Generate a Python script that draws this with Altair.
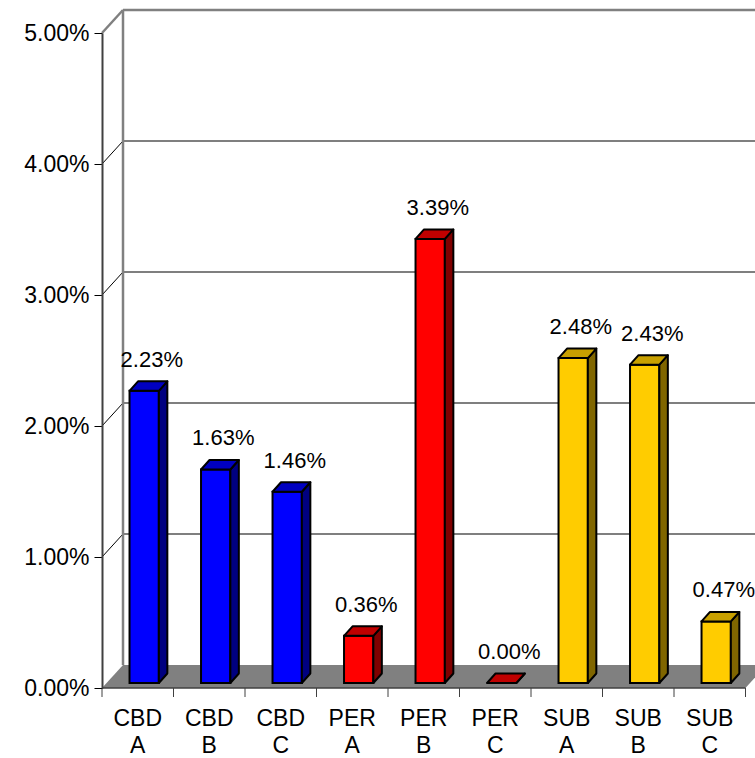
import altair as alt
import pandas as pd

# ---------------- data ----------------
categories = ["CBD A", "CBD B", "CBD C", "PER A", "PER B", "PER C", "SUB A", "SUB B", "SUB C"]
groups = ["CBD", "CBD", "CBD", "PER", "PER", "PER", "SUB", "SUB", "SUB"]
values = [0.0223, 0.0163, 0.0146, 0.0036, 0.0339, 0.0000, 0.0248, 0.0243, 0.0047]
y_ticks = [0.0, 0.01, 0.02, 0.03, 0.04, 0.05]

# ---------------- styles ----------------
front_colors = {"CBD": "#0000FF", "PER": "#FF0000", "SUB": "#FFCC00"}
side_colors = {"CBD": "#000080", "PER": "#800000", "SUB": "#806600"}
top_colors = {"CBD": "#0000C0", "PER": "#C00000", "SUB": "#C8A000"}
FONT = "Liberation Sans"

# ---------------- geometry (pixel based) ----------------
CAT_PX = 71.5        # pixels per category
VAL_PX = 13100.0     # pixels per 1.0 (=100%)
W, H = 653, 655
N = len(categories)
XMAX = W / CAT_PX


def px_x(p):
    return p / CAT_PX


def px_y(p):
    return p / VAL_PX


WALL_DX, WALL_DY = px_x(21), px_y(23)
BAR_L, BAR_R = 0.385, 0.795
BAR_DX, BAR_DY = px_x(8.5), px_y(9.5)
BAR_BASE = px_y(5)

xs = alt.Scale(domain=[0, XMAX], nice=False, zero=False)
ys = alt.Scale(domain=[0, 0.05], nice=False, zero=False)

y_axis = alt.Axis(values=y_ticks, format=".2%", tickSize=8, labelPadding=5,
                  labelFont=FONT, labelFontSize=23, labelColor="black",
                  domainColor="#404040", domainWidth=2, tickColor="black",
                  tickWidth=1, grid=False, title=None, zindex=1)


def X(f):
    return alt.X(f"{f}:Q", scale=xs, axis=None)


def Y(f):
    return alt.Y(f"{f}:Q", scale=ys, axis=y_axis, title=None)


# ---------------- tables ----------------
bars = pd.DataFrame({"name": categories, "grp": groups, "value": values})
bars["i"] = range(N)
bars["xl"] = bars["i"] + BAR_L
bars["xr"] = bars["i"] + BAR_R
bars["xc"] = bars["i"] + 0.5
bars["yb"] = BAR_BASE
bars["yt"] = bars["value"] + BAR_BASE
bars["front"] = bars["grp"].map(front_colors)
bars["sidec"] = bars["grp"].map(side_colors)
bars["topc"] = bars["grp"].map(top_colors)
bars["label"] = bars["name"].str.replace(" ", "\n")

side_rows, top_rows = [], []
for r in bars.to_dict("records"):
    side_rows.append({"name": r["name"], "c": r["sidec"], "x": r["xr"], "y": r["yb"], "y2": r["yt"]})
    side_rows.append({"name": r["name"], "c": r["sidec"], "x": r["xr"] + BAR_DX,
                      "y": r["yb"] + BAR_DY, "y2": r["yt"] + BAR_DY})
    top_rows.append({"name": r["name"], "c": r["topc"], "y": r["yt"], "x": r["xl"], "x2": r["xr"]})
    top_rows.append({"name": r["name"], "c": r["topc"], "y": r["yt"] + BAR_DY,
                     "x": r["xl"] + BAR_DX, "x2": r["xr"] + BAR_DX})
side_df = pd.DataFrame(side_rows)
top_df = pd.DataFrame(top_rows)

floor_df = pd.DataFrame([
    {"y": 0.0, "x": 0.0, "x2": float(N)},
    {"y": WALL_DY, "x": WALL_DX, "x2": N + WALL_DX},
])
grid_df = pd.DataFrame({"y": [v + WALL_DY for v in y_ticks[1:-1]], "x": WALL_DX, "x2": XMAX + 1})
diag_df = pd.DataFrame({"y": y_ticks[1:-1], "y2": [v + WALL_DY for v in y_ticks[1:-1]], "x": 0.0, "x2": WALL_DX})
top_diag_df = pd.DataFrame({"y": [y_ticks[-1]], "y2": [y_ticks[-1] + WALL_DY], "x": [0.0], "x2": [WALL_DX]})
wall_left_df = pd.DataFrame({"x": [WALL_DX], "y": [WALL_DY], "y2": [y_ticks[-1] + WALL_DY]})
wall_top_df = pd.DataFrame({"x": [WALL_DX], "x2": [XMAX + 1], "y": [y_ticks[-1] + WALL_DY]})
xaxis_df = pd.DataFrame({"x": [0.0], "x2": [float(N)], "y": [0.0]})
xticks_df = pd.DataFrame({"x": [float(i) for i in range(N + 1)]})

# ---------------- layers ----------------
floor = alt.Chart(floor_df).mark_area(orient="horizontal", color="#808080").encode(
    y=Y("y"), x=X("x"), x2=alt.X2("x2"))

grid = alt.Chart(grid_df).mark_rule(color="black", strokeWidth=1.2).encode(
    x=X("x"), x2=alt.X2("x2"), y=Y("y"))
diag = alt.Chart(diag_df).mark_rule(color="black", strokeWidth=1).encode(
    x=X("x"), x2=alt.X2("x2"), y=Y("y"), y2=alt.Y2("y2"))
top_diag = alt.Chart(top_diag_df).mark_rule(color="#808080", strokeWidth=2.5).encode(
    x=X("x"), x2=alt.X2("x2"), y=Y("y"), y2=alt.Y2("y2"))
wall_left = alt.Chart(wall_left_df).mark_rule(color="#808080", strokeWidth=2.5).encode(
    x=X("x"), y=Y("y"), y2=alt.Y2("y2"))
wall_top = alt.Chart(wall_top_df).mark_rule(color="#808080", strokeWidth=2.5).encode(
    x=X("x"), x2=alt.X2("x2"), y=Y("y"))

xaxis = alt.Chart(xaxis_df).mark_rule(color="#404040", strokeWidth=1.5).encode(
    x=X("x"), x2=alt.X2("x2"), y=Y("y"))
xticks = alt.Chart(xticks_df).mark_rule(color="#404040", strokeWidth=1).encode(
    x=X("x"), y=alt.value(H), y2=alt.value(H + 9))

front = alt.Chart(bars).mark_rect(stroke="black", strokeWidth=2).encode(
    x=X("xl"), x2=alt.X2("xr"), y=Y("yb"), y2=alt.Y2("yt"),
    fill=alt.Fill("front:N", scale=None))
side = alt.Chart(side_df).mark_area(orient="vertical", stroke="black", strokeWidth=2,
                                    strokeJoin="round").encode(
    x=X("x"), y=Y("y"), y2=alt.Y2("y2"), fill=alt.Fill("c:N", scale=None),
    detail="name:N")
top = alt.Chart(top_df).mark_area(orient="horizontal", stroke="black", strokeWidth=2,
                                  strokeJoin="round").encode(
    y=Y("y"), x=X("x"), x2=alt.X2("x2"), fill=alt.Fill("c:N", scale=None),
    detail="name:N")

labels = alt.Chart(bars).mark_text(dx=14, dy=-31, font=FONT, fontSize=22,
                                   baseline="middle", align="center",
                                   color="black").encode(
    x=X("xc"), y=Y("yt"), text=alt.Text("value:Q", format=".2%"))

cat_labels = alt.Chart(bars).mark_text(font=FONT, fontSize=23, lineBreak="\n",
                                       lineHeight=27, baseline="alphabetic",
                                       align="center", color="black").encode(
    x=X("xc"), y=alt.value(H + 38), text="label:N")

chart = alt.layer(
    floor, grid, diag, top_diag, wall_left, wall_top, xaxis, xticks,
    front, side, top, labels, cat_labels,
).properties(
    width=W, height=H,
    padding={"left": 102, "top": 33, "right": 0, "bottom": 70},
    autosize="none",
    background="white",
).configure_view(stroke=None)

chart.save("out.html", embed_options={"renderer": "svg", "actions": False})
